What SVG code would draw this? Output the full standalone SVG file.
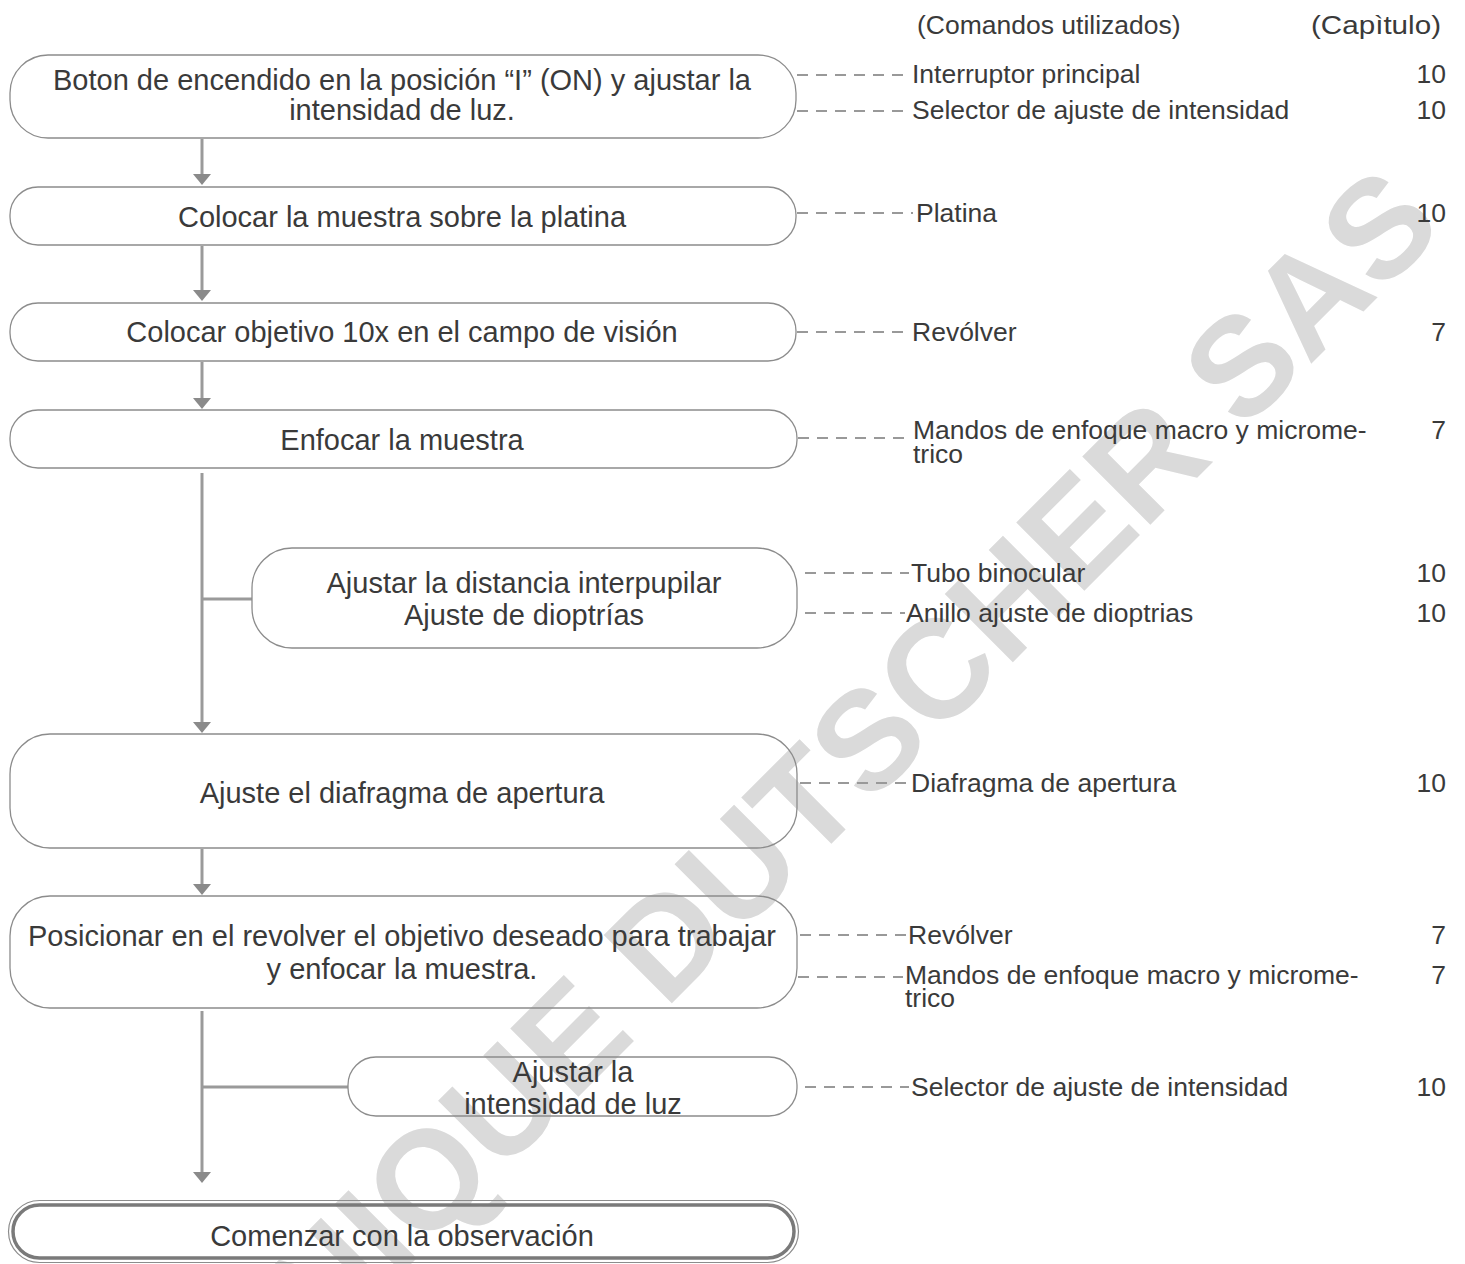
<svg xmlns="http://www.w3.org/2000/svg" width="1465" height="1264" viewBox="0 0 1465 1264">
<defs>
<style>
.box{fill:none;stroke:#8c8c8c;stroke-width:1.3}
.t{font-family:"Liberation Sans",Arial,sans-serif;font-size:29px;fill:#3a3a3a;text-anchor:middle}
.r{font-family:"Liberation Sans",Arial,sans-serif;font-size:26.5px;fill:#3a3a3a}
.n{font-family:"Liberation Sans",Arial,sans-serif;font-size:26.5px;fill:#3a3a3a;text-anchor:end}
.flow{fill:none;stroke:#9a9a9a;stroke-width:3}
.dash{fill:none;stroke:#999999;stroke-width:2.2;stroke-dasharray:11 8}
.wm{font-family:"Liberation Sans",Arial,sans-serif;font-size:140px;font-weight:bold;fill:#dadada;text-anchor:middle}
</style>
<marker id="arr" markerUnits="userSpaceOnUse" markerWidth="12" markerHeight="18" refX="1" refY="9" orient="auto">
<path d="M0,0 L11,9 L0,18 Z" fill="#8a8a8a"/>
</marker>
</defs>
<rect x="0" y="0" width="1465" height="1264" fill="#ffffff"/>
<text class="wm" transform="translate(745,930) rotate(-45)" x="0" y="0">VERONIQUE DUTSCHER SAS</text>

<g id="connectors">
<line class="flow" x1="202" y1="139" x2="202" y2="175" marker-end="url(#arr)"/>
<line class="flow" x1="202" y1="246" x2="202" y2="291" marker-end="url(#arr)"/>
<line class="flow" x1="202" y1="362" x2="202" y2="399" marker-end="url(#arr)"/>
<line class="flow" x1="202" y1="473" x2="202" y2="723" marker-end="url(#arr)"/>
<line class="flow" x1="202" y1="599" x2="252" y2="599"/>
<line class="flow" x1="202" y1="849" x2="202" y2="885" marker-end="url(#arr)"/>
<line class="flow" x1="202" y1="1011" x2="202" y2="1173" marker-end="url(#arr)"/>
<line class="flow" x1="202" y1="1087" x2="348" y2="1087"/>
<line class="dash" x1="797" y1="75" x2="910" y2="75"/>
<line class="dash" x1="797" y1="111" x2="910" y2="111"/>
<line class="dash" x1="797" y1="213" x2="913" y2="213"/>
<line class="dash" x1="797" y1="332" x2="910" y2="332"/>
<line class="dash" x1="798" y1="438" x2="911" y2="438"/>
<line class="dash" x1="805" y1="573" x2="909" y2="573"/>
<line class="dash" x1="805" y1="613" x2="905" y2="613"/>
<line class="dash" x1="800" y1="783" x2="909" y2="783"/>
<line class="dash" x1="800" y1="935" x2="906" y2="935"/>
<line class="dash" x1="798" y1="977" x2="903" y2="977"/>
<line class="dash" x1="805" y1="1087" x2="909" y2="1087"/>
</g>

<g id="header">
<text class="r" x="917" y="34">(Comandos utilizados)</text>
<text class="r" x="1311" y="34" textLength="130" lengthAdjust="spacingAndGlyphs">(Capìtulo)</text>
</g>

<g id="node-encendido">
<rect class="box" x="10" y="55" width="786" height="83" rx="38"/>
<text class="t"><tspan x="402" y="90">Boton de encendido en la posición “I” (ON) y ajustar la</tspan><tspan x="402" y="120">intensidad de luz.</tspan></text>
</g>
<g id="node-muestra">
<rect class="box" x="10" y="187" width="786" height="58" rx="28"/>
<text class="t" x="402" y="227">Colocar la muestra sobre la platina</text>
</g>
<g id="node-objetivo">
<rect class="box" x="10" y="303" width="786" height="58" rx="28"/>
<text class="t" x="402" y="342">Colocar objetivo 10x en el campo de visión</text>
</g>
<g id="node-enfocar">
<rect class="box" x="10" y="410" width="787" height="58" rx="28"/>
<text class="t" x="402" y="450">Enfocar la muestra</text>
</g>
<g id="node-interpupilar">
<rect class="box" x="252" y="548" width="545" height="100" rx="40"/>
<text class="t"><tspan x="524" y="593">Ajustar la distancia interpupilar</tspan><tspan x="524" y="625">Ajuste de dioptrías</tspan></text>
</g>
<g id="node-diafragma">
<rect class="box" x="10" y="734" width="787" height="114" rx="40"/>
<text class="t" x="402" y="803">Ajuste el diafragma de apertura</text>
</g>
<g id="node-posicionar">
<rect class="box" x="10" y="896" width="787" height="112" rx="40"/>
<text class="t"><tspan x="402" y="946">Posicionar en el revolver el objetivo deseado para trabajar</tspan><tspan x="402" y="979">y enfocar la muestra.</tspan></text>
</g>
<g id="node-intensidad">
<rect class="box" x="348" y="1057" width="449" height="59" rx="28"/>
<text class="t"><tspan x="573" y="1082">Ajustar la</tspan><tspan x="573" y="1114">intensidad de luz</tspan></text>
</g>
<g id="node-comenzar">
<rect x="8.5" y="1200.5" width="790" height="62" rx="31" fill="none" stroke="#8c8c8c" stroke-width="1.2"/>
<rect x="13" y="1205" width="781" height="53" rx="26.5" fill="none" stroke="#7a7a7a" stroke-width="3.5"/>
<text class="t" x="402" y="1246">Comenzar con la observación</text>
</g>

<g id="commands">
<text class="r" x="912" y="83">Interruptor principal</text><text class="n" x="1446" y="83">10</text>
<text class="r" x="912" y="119">Selector de ajuste de intensidad</text><text class="n" x="1446" y="119">10</text>
<text class="r" x="916" y="222">Platina</text><text class="n" x="1446" y="222">10</text>
<text class="r" x="912" y="341">Revólver</text><text class="n" x="1446" y="341">7</text>
<text class="r"><tspan x="913" y="439">Mandos de enfoque macro y microme-</tspan><tspan x="913" y="463">trico</tspan></text><text class="n" x="1446" y="439">7</text>
<text class="r" x="911" y="582">Tubo binocular</text><text class="n" x="1446" y="582">10</text>
<text class="r" x="906" y="622">Anillo ajuste de dioptrias</text><text class="n" x="1446" y="622">10</text>
<text class="r" x="911" y="792">Diafragma de apertura</text><text class="n" x="1446" y="792">10</text>
<text class="r" x="908" y="944">Revólver</text><text class="n" x="1446" y="944">7</text>
<text class="r"><tspan x="905" y="984">Mandos de enfoque macro y microme-</tspan><tspan x="905" y="1007">trico</tspan></text><text class="n" x="1446" y="984">7</text>
<text class="r" x="911" y="1096">Selector de ajuste de intensidad</text><text class="n" x="1446" y="1096">10</text>
</g>
</svg>
